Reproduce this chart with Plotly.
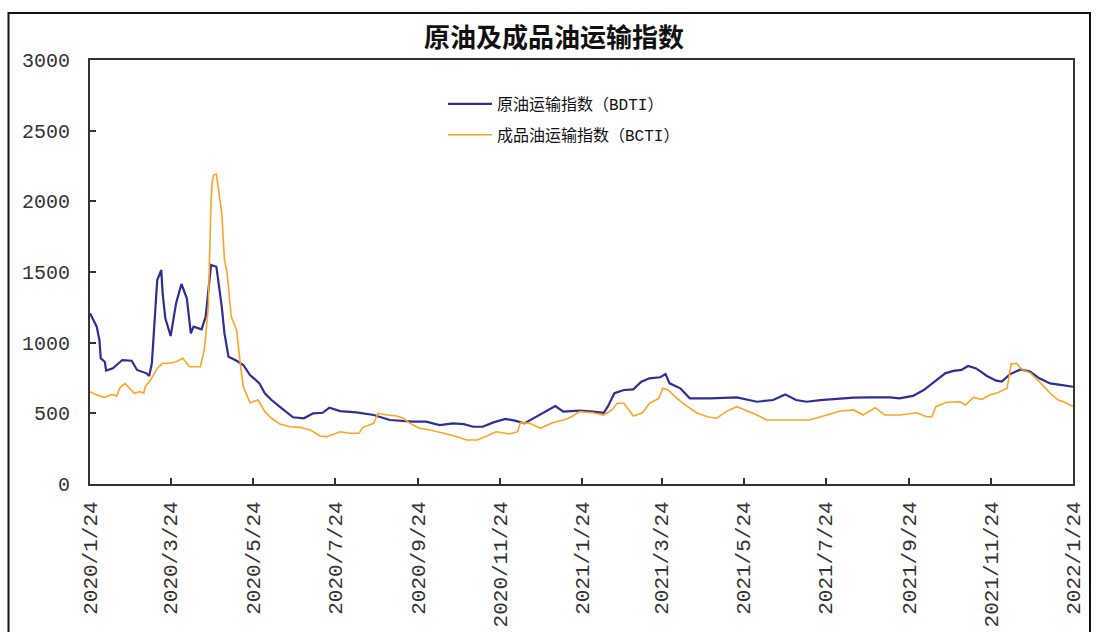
import plotly.graph_objects as go

title_text = "原油及成品油运输指数"
bdti_name = "原油运输指数（<span style='font-family:Liberation Mono'>BDTI</span>）"
bcti_name = "成品油运输指数（<span style='font-family:Liberation Mono'>BCTI</span>）"

bdti_dates = [
    "2020-01-24", "2020-01-26", "2020-01-29", "2020-01-31", "2020-02-01", "2020-02-04", "2020-02-05",
    "2020-02-10", "2020-02-17", "2020-02-24", "2020-02-28", "2020-03-06", "2020-03-08", "2020-03-10",
    "2020-03-12", "2020-03-14", "2020-03-17", "2020-03-18", "2020-03-20", "2020-03-24", "2020-03-28",
    "2020-04-01", "2020-04-05", "2020-04-08", "2020-04-10", "2020-04-16", "2020-04-19", "2020-04-21",
    "2020-04-23", "2020-04-27", "2020-05-01", "2020-05-03", "2020-05-06", "2020-05-12", "2020-05-17",
    "2020-05-22", "2020-05-29", "2020-06-02", "2020-06-07", "2020-06-13", "2020-06-23", "2020-07-01",
    "2020-07-08", "2020-07-15", "2020-07-20", "2020-07-28", "2020-08-09", "2020-08-22", "2020-09-03",
    "2020-09-20", "2020-09-30", "2020-10-10", "2020-10-20", "2020-10-28", "2020-11-04", "2020-11-11",
    "2020-11-19", "2020-11-28", "2020-12-05", "2020-12-12", "2020-12-19", "2020-12-26", "2021-01-04",
    "2021-01-10", "2021-01-22", "2021-02-01", "2021-02-09", "2021-02-12", "2021-02-17", "2021-02-24",
    "2021-03-03", "2021-03-09", "2021-03-15", "2021-03-23", "2021-03-27", "2021-03-30", "2021-04-07",
    "2021-04-14", "2021-04-29", "2021-05-19", "2021-06-03", "2021-06-15", "2021-06-24", "2021-07-02",
    "2021-07-10", "2021-07-20", "2021-08-14", "2021-08-26", "2021-09-10", "2021-09-17", "2021-09-27",
    "2021-10-05", "2021-10-13", "2021-10-21", "2021-10-27", "2021-11-02", "2021-11-07", "2021-11-13",
    "2021-11-21", "2021-11-28", "2021-12-02", "2021-12-08", "2021-12-16", "2021-12-23", "2021-12-30",
    "2022-01-07", "2022-01-16", "2022-01-24",
]
bdti_values = [
    1208, 1170, 1113, 1019, 889, 865, 802,
    818, 877, 872, 807, 783, 764, 854,
    1150, 1443, 1514, 1350, 1172, 1047, 1278,
    1415, 1314, 1066, 1113, 1094, 1184, 1350,
    1549, 1537, 1254, 1066, 901, 872, 842,
    771, 712, 642, 594, 547, 472, 465,
    500, 504, 540, 516, 507, 488, 453,
    441, 441, 417, 429, 424, 405, 405,
    436, 460, 448, 429, 465, 500, 552,
    512, 519, 512, 504, 547, 642, 665,
    670, 724, 748, 755, 778, 712, 677,
    606, 606, 613, 582, 594, 634, 594,
    582, 594, 611, 613, 613, 606, 623,
    665, 724, 783, 800, 807, 835, 818,
    764, 731, 724, 776, 811, 795, 748,
    712, 700, 688,
]

bcti_dates = [
    "2020-01-24", "2020-01-29", "2020-02-04", "2020-02-09", "2020-02-13", "2020-02-15", "2020-02-19",
    "2020-02-26", "2020-03-01", "2020-03-04", "2020-03-05", "2020-03-09", "2020-03-14", "2020-03-18",
    "2020-03-23", "2020-03-28", "2020-04-02", "2020-04-07", "2020-04-15", "2020-04-18", "2020-04-21",
    "2020-04-23", "2020-04-24", "2020-04-25", "2020-04-27", "2020-05-01", "2020-05-03", "2020-05-05",
    "2020-05-08", "2020-05-12", "2020-05-15", "2020-05-17", "2020-05-22", "2020-05-28", "2020-06-02",
    "2020-06-07", "2020-06-13", "2020-06-21", "2020-06-28", "2020-07-06", "2020-07-13", "2020-07-18",
    "2020-07-28", "2020-08-04", "2020-08-11", "2020-08-14", "2020-08-22", "2020-08-25", "2020-09-01",
    "2020-09-08", "2020-09-13", "2020-09-18", "2020-09-25", "2020-10-03", "2020-10-13", "2020-10-23",
    "2020-10-30", "2020-11-07", "2020-11-14", "2020-11-21", "2020-12-01", "2020-12-07", "2020-12-09",
    "2020-12-16", "2020-12-24", "2021-01-02", "2021-01-12", "2021-01-17", "2021-01-22", "2021-02-01",
    "2021-02-09", "2021-02-15", "2021-02-19", "2021-02-24", "2021-03-03", "2021-03-10", "2021-03-15",
    "2021-03-22", "2021-03-25", "2021-03-29", "2021-04-03", "2021-04-09", "2021-04-19", "2021-04-27",
    "2021-05-04", "2021-05-11", "2021-05-19", "2021-05-26", "2021-06-03", "2021-06-10", "2021-07-12",
    "2021-07-25", "2021-08-04", "2021-08-14", "2021-08-21", "2021-08-30", "2021-09-06", "2021-09-17",
    "2021-09-30", "2021-10-07", "2021-10-11", "2021-10-14", "2021-10-22", "2021-11-01", "2021-11-05",
    "2021-11-11", "2021-11-17", "2021-11-23", "2021-11-29", "2021-12-06", "2021-12-08", "2021-12-09",
    "2021-12-13", "2021-12-17", "2021-12-23", "2021-12-30", "2022-01-07", "2022-01-13", "2022-01-17",
    "2022-01-24",
]
bcti_values = [
    653, 630, 613, 634, 623, 677, 712,
    642, 653, 642, 688, 736, 818, 854,
    854, 865, 889, 830, 830, 948, 1254,
    2000, 2151, 2186, 2193, 1915, 1585, 1491,
    1184, 1090, 830, 688, 575, 594, 512,
    465, 425, 405, 401, 382, 340, 335,
    370, 359, 359, 401, 429, 500, 488,
    481, 465, 429, 394, 382, 359, 335,
    311, 311, 340, 370, 354, 370, 434,
    429, 394, 434, 458, 481, 512, 504,
    488, 524, 571, 571, 481, 504, 571,
    606, 677, 665, 618, 571, 504, 476,
    465, 512, 547, 519, 488, 453, 453,
    488, 516, 524, 488, 540, 488, 488,
    504, 476, 476, 547, 578, 582, 559,
    613, 599, 630, 646, 677, 783, 849,
    854, 811, 788, 724, 642, 594, 582,
    548,
]

x_tick_dates = [
    "2020-01-24", "2020-03-24", "2020-05-24", "2020-07-24", "2020-09-24", "2020-11-24",
    "2021-01-24", "2021-03-24", "2021-05-24", "2021-07-24", "2021-09-24", "2021-11-24",
    "2022-01-24",
]
x_tick_labels = [
    "2020/1/24", "2020/3/24", "2020/5/24", "2020/7/24", "2020/9/24", "2020/11/24",
    "2021/1/24", "2021/3/24", "2021/5/24", "2021/7/24", "2021/9/24", "2021/11/24",
    "2022/1/24",
]
y_ticks = [0, 500, 1000, 1500, 2000, 2500, 3000]

fig = go.Figure()
fig.add_trace(go.Scatter(
    x=bdti_dates, y=bdti_values, mode="lines", name=bdti_name,
    line=dict(color="#2E2E96", width=2.2), legendgroup="a",
))
fig.add_trace(go.Scatter(
    x=bcti_dates, y=bcti_values, mode="lines", name=bcti_name,
    line=dict(color="#FFA424", width=1.6), legendgroup="b",
))

mono = "Liberation Mono, DejaVu Sans Mono, monospace"

fig.update_layout(
    width=1099, height=632, autosize=False,
    margin=dict(l=90, r=26, t=60, b=148),
    paper_bgcolor="white", plot_bgcolor="white",
    title=dict(
        text="<b>" + title_text + "</b>",
        x=554 / 1099, xref="container", xanchor="center",
        y=1 - 38 / 632, yref="container", yanchor="middle",
        font=dict(family="Noto Sans CJK SC", size=26, color="#111111"),
    ),
    showlegend=True,
    legend=dict(
        x=(443 - 90) / 983, y=(484 - 87) / 424, xanchor="left", yanchor="top",
        bgcolor="rgba(0,0,0,0)", borderwidth=0,
        font=dict(family="Noto Sans CJK SC", size=16, color="#111111"),
        tracegroupgap=7, itemwidth=44,
    ),
    xaxis=dict(
        type="date", range=["2020-01-24", "2022-01-24"],
        tickmode="array", tickvals=x_tick_dates, ticktext=x_tick_labels,
        tickangle=-90, tickfont=dict(family=mono, size=21, color="#333333"),
        ticks="inside", ticklen=6, tickwidth=1.5, tickcolor="#333333",
        showline=True, linecolor="#333333", linewidth=2, mirror=True,
        showgrid=False, zeroline=False, ticklabelstandoff=7, automargin=False,
    ),
    yaxis=dict(
        range=[0, 3000], tickmode="array", tickvals=y_ticks,
        tickfont=dict(family=mono, size=20, color="#333333"),
        ticks="inside", ticklen=6, tickwidth=1.5, tickcolor="#333333",
        showline=True, linecolor="#333333", linewidth=2, mirror=True,
        showgrid=False, zeroline=False, ticklabelstandoff=14, automargin=False,
    ),
    shapes=[dict(
        type="rect", xref="paper", yref="paper",
        x0=(8.5 - 90) / 983, x1=(1090 - 90) / 983,
        y0=(484 - 660) / 424, y1=(484 - 13) / 424,
        line=dict(color="#111111", width=2), fillcolor="rgba(0,0,0,0)", layer="above",
    )],
)

fig.write_html("out.html")
